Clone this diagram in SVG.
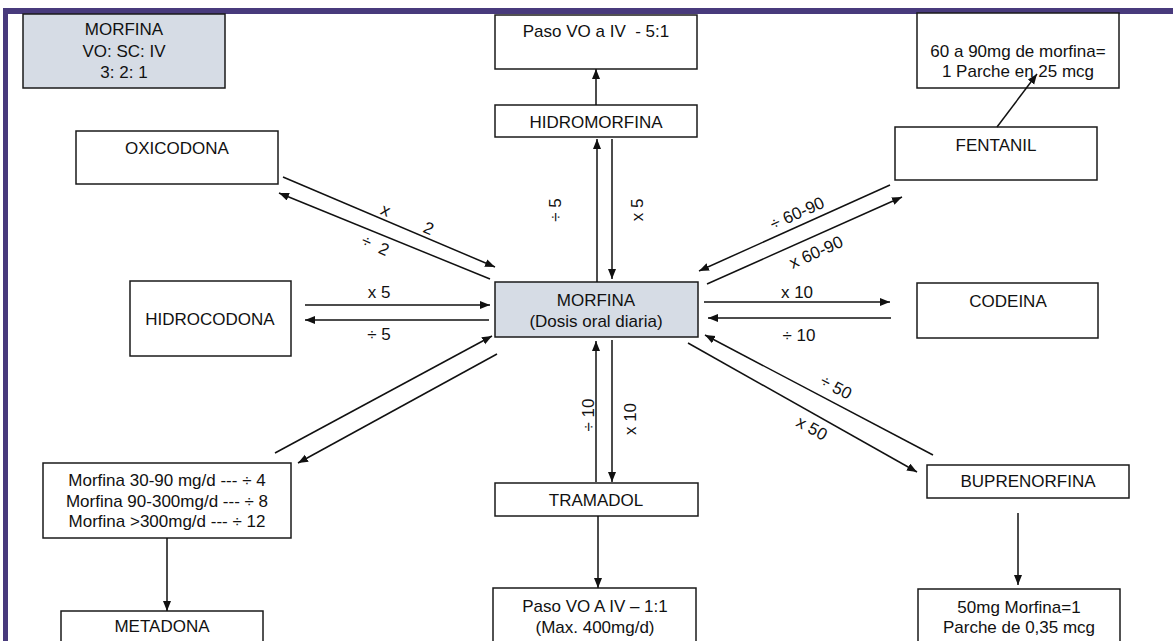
<svg xmlns="http://www.w3.org/2000/svg" width="1173" height="641" viewBox="0 0 1173 641">
<style>
text{font-family:"Liberation Sans",Arial,sans-serif;font-size:17px;fill:#111;}
.t{text-anchor:middle;}
.box{fill:#fff;stroke:#1a1a1a;stroke-width:1.5;}
.hl{fill:#d6dce5;stroke:#1a1a1a;stroke-width:1.5;}
.ln{stroke:#111;stroke-width:1.5;fill:none;}
.ar{stroke:#111;stroke-width:1.5;fill:none;marker-end:url(#ah);}
</style>
<defs>
<marker id="ah" markerUnits="userSpaceOnUse" markerWidth="11" markerHeight="9" refX="10" refY="4" orient="auto">
<path d="M0,0 L10,4 L0,8 z" fill="#111"/>
</marker>
</defs>
<rect width="1173" height="641" fill="#fff"/>
<rect x="3" y="8" width="1170" height="6" fill="#483a7c"/>
<rect x="3" y="8" width="5" height="633" fill="#483a7c"/>

<g id="n-morfina-ratio">
<rect class="hl" x="23" y="14" width="202" height="74"/>
<text class="t" x="124" y="35">MORFINA</text>
<text class="t" x="124" y="57">VO: SC: IV</text>
<text class="t" x="124" y="78">3: 2: 1</text>
</g>
<g id="n-oxicodona">
<rect class="box" x="76" y="131" width="202" height="53"/>
<text class="t" x="177" y="154">OXICODONA</text>
</g>
<g id="n-paso-hidro">
<rect class="box" x="495" y="15" width="202" height="54"/>
<text class="t" x="596" y="37" xml:space="preserve">Paso VO a IV  - 5:1</text>
</g>
<g id="n-hidromorfina">
<rect class="box" x="495" y="105" width="202" height="32"/>
<text class="t" x="596" y="128">HIDROMORFINA</text>
</g>
<g id="n-fentanil-note">
<rect class="box" x="917" y="13" width="202" height="75"/>
<text class="t" x="1018" y="57">60 a 90mg de morfina=</text>
<text class="t" x="1018" y="77">1 Parche en 25 mcg</text>
</g>
<g id="n-fentanil">
<rect class="box" x="895" y="127" width="202" height="53"/>
<text class="t" x="996" y="151">FENTANIL</text>
</g>
<g id="n-morfina">
<rect class="hl" x="495" y="282" width="203" height="55"/>
<text class="t" x="596" y="306">MORFINA</text>
<text class="t" x="596" y="327">(Dosis oral diaria)</text>
</g>
<g id="n-hidrocodona">
<rect class="box" x="130" y="281" width="161" height="75"/>
<text class="t" x="210" y="325">HIDROCODONA</text>
</g>
<g id="n-codeina">
<rect class="box" x="917" y="283" width="181" height="55"/>
<text class="t" x="1008" y="307">CODEINA</text>
</g>
<g id="n-metadona-rule">
<rect class="box" x="43" y="463" width="248" height="75"/>
<text class="t" x="167" y="486">Morfina 30-90 mg/d  --- ÷ 4</text>
<text class="t" x="167" y="507">Morfina 90-300mg/d --- ÷ 8</text>
<text class="t" x="167" y="527">Morfina &gt;300mg/d  --- ÷ 12</text>
</g>
<g id="n-metadona">
<rect class="box" x="61" y="611" width="202" height="40"/>
<text class="t" x="162" y="632">METADONA</text>
</g>
<g id="n-tramadol">
<rect class="box" x="495" y="483" width="203" height="33"/>
<text class="t" x="596" y="506">TRAMADOL</text>
</g>
<g id="n-paso-tramadol">
<rect class="box" x="493" y="588" width="203" height="60"/>
<text class="t" x="595" y="612">Paso VO A IV – 1:1</text>
<text class="t" x="595" y="633">(Max. 400mg/d)</text>
</g>
<g id="n-buprenorfina">
<rect class="box" x="927" y="465" width="202" height="33"/>
<text class="t" x="1028" y="487">BUPRENORFINA</text>
</g>
<g id="n-bup-note">
<rect class="box" x="918" y="589" width="202" height="60"/>
<text class="t" x="1019" y="613">50mg Morfina=1</text>
<text class="t" x="1019" y="633">Parche de 0,35 mcg</text>
</g>

<g id="connectors">
<line class="ar" x1="596" y1="105" x2="596" y2="69"/>
<line class="ar" x1="597" y1="282" x2="597" y2="139"/>
<line class="ar" x1="612" y1="139" x2="612" y2="279"/>
<line class="ar" x1="997" y1="127" x2="1037" y2="74"/>
<line class="ar" x1="283" y1="177" x2="495" y2="267"/>
<line class="ar" x1="490" y1="279" x2="279" y2="193"/>
<line class="ar" x1="305" y1="305" x2="490" y2="305"/>
<line class="ar" x1="489" y1="320" x2="305" y2="320"/>
<line class="ar" x1="890" y1="185" x2="699" y2="271"/>
<line class="ar" x1="707" y1="284" x2="902" y2="197"/>
<line class="ar" x1="704" y1="302" x2="890" y2="302"/>
<line class="ar" x1="891" y1="318" x2="708" y2="318"/>
<line class="ar" x1="933" y1="455" x2="705" y2="335"/>
<line class="ar" x1="688" y1="343" x2="917" y2="472"/>
<line class="ar" x1="275" y1="453" x2="492" y2="336"/>
<line class="ar" x1="497" y1="354" x2="298" y2="463"/>
<line class="ar" x1="167" y1="538" x2="167" y2="611"/>
<line class="ar" x1="596" y1="482" x2="596" y2="341"/>
<line class="ar" x1="612" y1="340" x2="612" y2="482"/>
<line class="ar" x1="598" y1="516" x2="598" y2="588"/>
<line class="ar" x1="1018" y1="513" x2="1018" y2="585"/>
<g id="labels">
<text class="t" xml:space="preserve" transform="translate(407,220) rotate(23)" y="5">x        2</text>
<text class="t" xml:space="preserve" transform="translate(375,246) rotate(24)" y="5">÷  2</text>
<text class="t" x="379" y="298">x 5</text>
<text class="t" x="379" y="340">÷ 5</text>
<text class="t" transform="translate(555,210) rotate(-90)" y="6">÷ 5</text>
<text class="t" transform="translate(637,210) rotate(-90)" y="6">x 5</text>
<text class="t" transform="translate(797,213) rotate(-24)" y="6">÷ 60-90</text>
<text class="t" transform="translate(816,252) rotate(-24)" y="6">x 60-90</text>
<text class="t" x="797" y="298">x 10</text>
<text class="t" x="799" y="341">÷ 10</text>
<text class="t" transform="translate(836,387) rotate(28)" y="6">÷ 50</text>
<text class="t" transform="translate(812,428) rotate(29)" y="6">x 50</text>
<text class="t" transform="translate(588,415) rotate(-90)" y="6">÷ 10</text>
<text class="t" transform="translate(630,419) rotate(-90)" y="6">x 10</text>
</g>
</g>
</svg>
